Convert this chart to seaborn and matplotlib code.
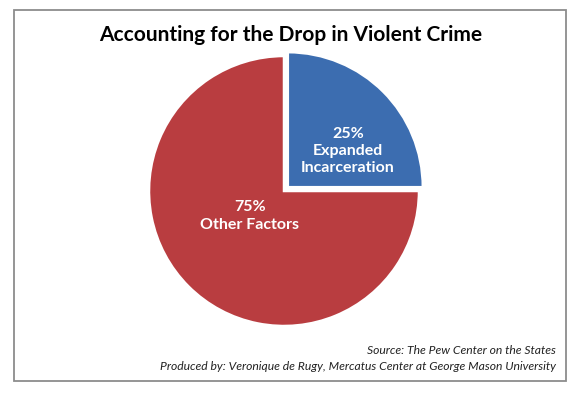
import matplotlib
matplotlib.use('Agg')
import matplotlib.pyplot as plt
import seaborn as sns
from matplotlib.patches import Rectangle

# data
labels = ['Expanded\nIncarceration', 'Other Factors']
shares = [25, 75]
colors = ['#3C6DB0', '#B93D40']
explode = [0.04, 0]

title = 'Accounting for the Drop in Violent Crime'
source = 'Source: The Pew Center on the States'
produced = 'Produced by: Veronique de Rugy, Mercatus Center at George Mason University'

sns.set_theme(style='white')
plt.rcParams['font.family'] = ['Lato', 'DejaVu Sans']

W, H = 579, 393
fig = plt.figure(figsize=(W / 100, H / 100), dpi=100)
fig.patch.set_facecolor('white')

# pie axes, centre (284, 191) px from top-left, radius 135 px
cx, cy, r = 284, 191, 135
half = r * 1.1
ax = fig.add_axes([(cx - half) / W, (H - cy - half) / H, 2 * half / W, 2 * half / H])
wedges, _ = ax.pie(shares, colors=colors, explode=explode, startangle=90,
                   counterclock=False,
                   wedgeprops=dict(edgecolor='white', linewidth=1.8))
ax.set_xlim(-1.1, 1.1)
ax.set_ylim(-1.1, 1.1)
ax.set_aspect('equal')
ax.axis('off')

# slice labels
def px(x, y):
    return ((x - (cx - half)) / (2 * half) * 2.2 - 1.1,
            ((cy + half) - y) / (2 * half) * 2.2 - 1.1)

lx, ly = px(348, 151)
ax.text(lx, ly, f'{shares[0]}%\n{labels[0]}', color='white', fontsize=11.5,
        fontweight='bold', ha='center', va='center', linespacing=1.3)
lx, ly = px(250, 216)
ax.text(lx, ly, f'{shares[1]}%\n{labels[1]}', color='white', fontsize=11.5,
        fontweight='bold', ha='center', va='center', linespacing=1.3)

fig.text(291 / W, 1 - 35 / H, title, fontsize=15, fontweight='bold',
         ha='center', va='center', color='black')
fig.text(556 / W, 1 - 351 / H, source, fontsize=8.7, style='italic',
         ha='right', va='center', color='#222222')
fig.text(556 / W, 1 - 367 / H, produced, fontsize=8.7, style='italic',
         ha='right', va='center', color='#222222')

# chart frame
fig.add_artist(Rectangle((14 / W, 1 - 381 / H), (566 - 14) / W, (381 - 10) / H,
                         transform=fig.transFigure, fill=False,
                         edgecolor='#8C8C8C', linewidth=1.3))

fig.savefig('out.png', dpi=100)
